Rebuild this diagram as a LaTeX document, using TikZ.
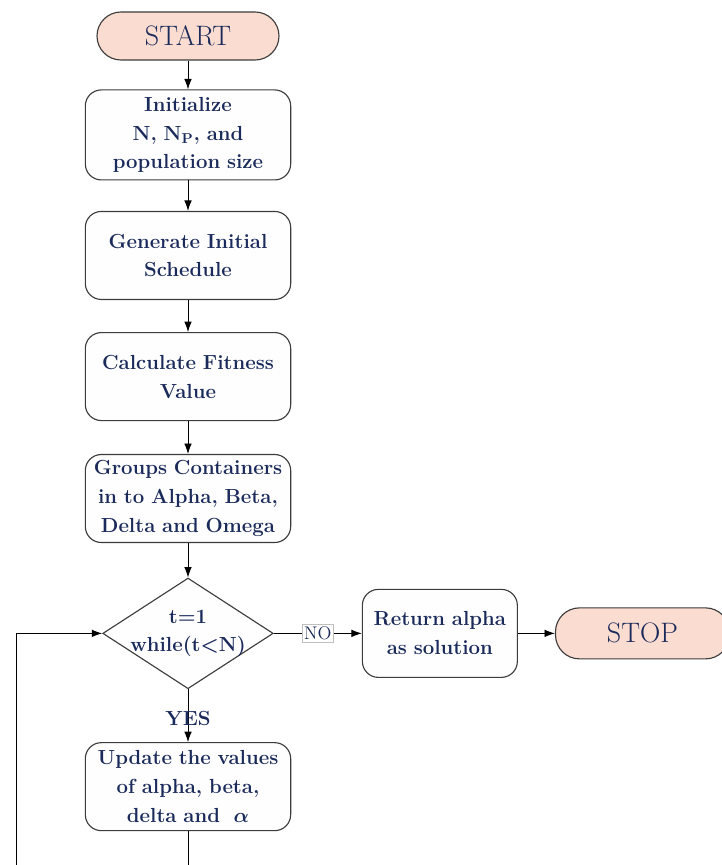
\documentclass[tikz,border=0pt]{standalone}
\usepackage{tikz}
\usetikzlibrary{shapes.geometric, arrows.meta, positioning}
\definecolor{textnavy}{HTML}{1A2A5A}
\definecolor{startpink}{HTML}{FBDCD0}
\definecolor{edgegray}{HTML}{3C3C3C}
\definecolor{boxwhite}{HTML}{FEFEFE}

\begin{document}
\begin{tikzpicture}[node distance=0.85cm]
% Define styles
\tikzstyle{terminal} = [rectangle, rounded corners=0.6cm, minimum width=4.55cm, minimum height=1.2cm, text centered, draw=edgegray, line width=0.8pt, fill=startpink, text=textnavy, font=\fontsize{20}{24}\selectfont]
\tikzstyle{process} = [rectangle, rounded corners=0.4cm, minimum width=5.125cm, minimum height=2.2cm, text width=4.9cm, align=center, draw=edgegray, line width=0.8pt, fill=boxwhite, text=textnavy, font=\fontsize{14.5}{20.5}\selectfont\bfseries]
\tikzstyle{decision} = [diamond, aspect=1.54, inner sep=-2.5pt, align=center, draw=edgegray, line width=0.8pt, fill=boxwhite, text=textnavy, font=\fontsize{14.5}{20.5}\selectfont\bfseries]
\tikzstyle{arrow} = [line width=0.6pt, -{Latex[length=2.6mm, width=1.9mm]}]

\useasboundingbox (0,0) rectangle (18.05,-21.625);

% Nodes
\node (start) [terminal] at (4.7,-0.9) {START};
\node (init) [process, below=0.72cm of start, minimum height=2.25cm] {Initialize\\N, N\textsubscript{P}, and\\population size};
\node (gen) [process, below=0.76cm of init] {Generate Initial\\Schedule};
\node (calc) [process, below=0.8cm of gen] {Calculate Fitness\\Value};
\node (group) [process, below=0.82cm of calc] {Groups Containers\\in to Alpha, Beta,\\Delta and Omega};
\node (cond) [decision, below=0.86cm of group] {t=1\\while(t<N)};
\node (update) [process, below=1.32cm of cond] {Update the values\\of alpha, beta,\\delta and \ {\boldmath$\alpha$}};
\node (ret) [process, right=2.2cm of cond, minimum width=3.875cm, text width=3.6cm] {Return alpha\\as solution};
\node (stop) [terminal, right=0.925cm of ret, minimum width=4.35cm, minimum height=1.275cm] {STOP};

\coordinate (loopdown) at (4.7,-22.6);
\coordinate (loopleft) at (0.4,-22.6);

% Arrows
\draw [arrow] (start) -- (init);
\draw [arrow] (init) -- (gen);
\draw [arrow] (gen) -- (calc);
\draw [arrow] (calc) -- (group);
\draw [arrow] (group) -- (cond);
\draw [arrow] (cond) -- node[fill=white, draw=gray!50, line width=0.4pt, inner sep=1.5pt, text=textnavy, font=\fontsize{13}{15}\selectfont] {NO} (ret);
\draw [arrow] (ret) -- (stop);
\draw [arrow] (cond) -- node[pos=0.55, text=textnavy, font=\fontsize{14.5}{16}\selectfont\bfseries] {YES} (update);
\draw [arrow] (update) -- (loopdown) -- (loopleft) |- (cond.west);

\end{tikzpicture}
\end{document}
